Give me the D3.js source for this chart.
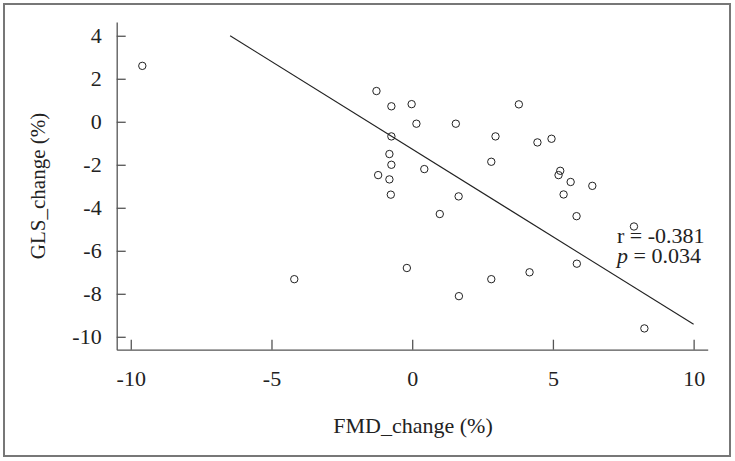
<!DOCTYPE html>
<html>
<head>
<meta charset="utf-8">
<script src="https://cdn.jsdelivr.net/npm/d3@7"></script>
<style>
  body { margin: 0; background: #fff; }
  svg { display: block; font-family: "Liberation Serif", "DejaVu Serif", serif; }
</style>
</head>
<body>
<svg width="735" height="461"></svg>
<script>
var width = 735;
var height = 461;

// FMD change (x) and GLS change (y)
var fmd = [-9.59, -1.27, -0.74, -0.02, 0.15, 1.55, 2.96, -0.74, -0.81, -0.74,
           0.43, -1.21, -0.81, -0.76, 1.65, 0.98, 2.81, -0.19, -4.19, 2.81,
           1.66, 3.79, 4.45, 4.95, 5.26, 5.20, 5.63, 6.40, 5.38, 5.84,
           7.88, 5.85, 4.17, 8.25];
var gls = [2.60, 1.43, 0.72, 0.82, -0.09, -0.09, -0.68, -0.68, -1.50, -2.00,
           -2.20, -2.48, -2.68, -3.39, -3.47, -4.29, -1.86, -6.80, -7.32, -7.32,
           -8.11, 0.81, -0.96, -0.79, -2.28, -2.48, -2.80, -2.98, -3.38, -4.39,
           -4.87, -6.60, -7.00, -9.61];

var xTicks = [-10, -5, 0, 5, 10];
var yTicks = [4, 2, 0, -2, -4, -6, -8, -10];

// fitted line end points
var fitX = [-6.47, 10];
var fitY = [4.0, -9.42];

var stats = ["r = -0.381", "p = 0.034"];

var fontSize = '22px';

var x = d3.scaleLinear().domain([-10.5, 10.5]).range([116.7, 707.7]);
var y = d3.scaleLinear().domain([-10.6, 4.64]).range([349.7, 22]);

var svg = d3.select('svg');

// outer frame
svg.append('rect')
  .attr('x', 4).attr('y', 4)
  .attr('width', 726).attr('height', 452)
  .attr('fill', 'none')
  .attr('stroke', '#777')
  .attr('stroke-width', 2);

// plain hyphen for negatives, like the original
function fmt(d) { return String(d); }

// y axis, ticks pointing inward
var gy = svg.append('g')
  .attr('transform', 'translate(116.7,0)')
  .call(d3.axisLeft(y).tickValues(yTicks).tickFormat(fmt)
    .tickSizeInner(-9).tickSizeOuter(0).tickPadding(15));

// x axis, ticks pointing up
var gx = svg.append('g')
  .attr('transform', 'translate(0,349.7)')
  .call(d3.axisBottom(x).tickValues(xTicks).tickFormat(fmt)
    .tickSizeInner(-10).tickSizeOuter(0).tickPadding(21));

[gx, gy].forEach(function(g) {
  g.selectAll('path, line').attr('stroke', '#555').attr('stroke-width', 1.3);
  g.selectAll('text')
    .attr('fill', '#222')
    .style('font-family', '"Liberation Serif", serif')
    .style('font-size', fontSize);
});

// axis titles
svg.append('text')
  .attr('x', 413).attr('y', 433)
  .attr('text-anchor', 'middle')
  .attr('fill', '#222')
  .style('font-size', fontSize)
  .text('FMD_change (%)');

svg.append('text')
  .attr('transform', 'translate(45,186) rotate(-90)')
  .attr('text-anchor', 'middle')
  .attr('fill', '#222')
  .style('font-size', '21px')
  .text('GLS_change (%)');

// regression line
svg.append('line')
  .attr('x1', x(fitX[0])).attr('y1', y(fitY[0]))
  .attr('x2', x(fitX[1])).attr('y2', y(fitY[1]))
  .attr('stroke', '#222')
  .attr('stroke-width', 1.1);

// points
svg.append('g')
  .selectAll('circle')
  .data(fmd)
  .enter()
  .append('circle')
  .attr('cx', function(d) { return x(d); })
  .attr('cy', function(d, i) { return y(gls[i]); })
  .attr('r', 3.7)
  .attr('fill', 'none')
  .attr('stroke', '#222')
  .attr('stroke-width', 1);

// r and p annotation
var ann = svg.append('g').attr('fill', '#222').style('font-size', fontSize);
ann.append('text').attr('x', 617).attr('y', 243).text(stats[0]);
var pt = ann.append('text').attr('x', 617).attr('y', 263);
pt.append('tspan').style('font-style', 'italic').text(stats[1].slice(0, 1));
pt.append('tspan').text(stats[1].slice(1));
</script>
</body>
</html>
